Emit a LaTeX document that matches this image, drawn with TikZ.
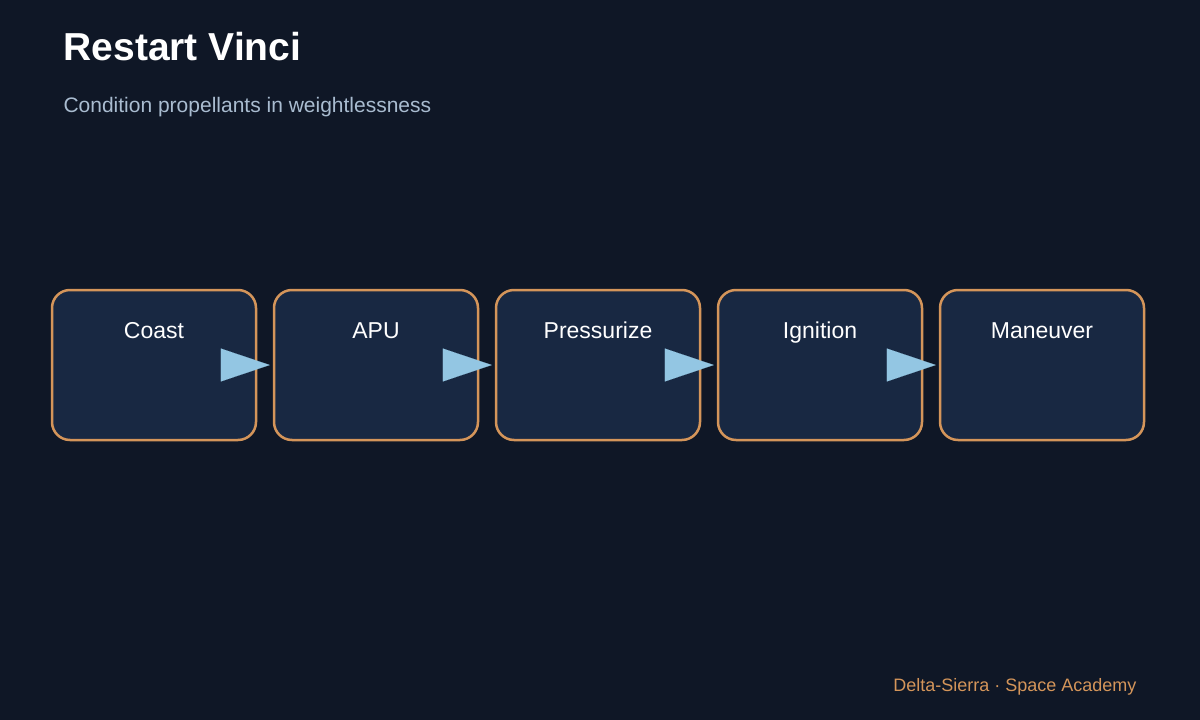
\documentclass[tikz,border=0pt]{standalone}
\usepackage{fontspec}
\setmainfont{Liberation Sans}
\usetikzlibrary{arrows.meta}
\definecolor{bg}{HTML}{0F1726}
\definecolor{boxf}{HTML}{182842}
\definecolor{boxd}{HTML}{D4955A}
\definecolor{arr}{HTML}{93C6E3}
\definecolor{sub}{HTML}{A9BCD0}
\begin{document}
\begin{tikzpicture}[x=1pt,y=-1pt,
  box/.style={draw=boxd,fill=boxf,line width=2.5pt,rounded corners=18pt,minimum width=204pt,minimum height=150pt,inner sep=0pt},
  lbl/.style={text=white,font=\fontsize{23}{27}\selectfont,anchor=base},
  con/.style={arr,line width=0.1pt,-{Triangle[length=49pt,width=33pt]},shorten >=3pt}]
\fill[bg] (0,0) rectangle (1200,720);
\useasboundingbox (0,0) rectangle (1200,720);
\node[anchor=base west,text=white,font=\bfseries\fontsize{39}{44}\selectfont] (title) at (60,60) {Restart Vinci};
\node[anchor=base west,text=sub,font=\fontsize{21}{25}\selectfont] (subtitle) at (60,112) {Condition propellants in weightlessness};
\foreach \n/\x/\t in {a/154/Coast,b/376/APU,c/598/Pressurize,d/820/Ignition,e/1042/Maneuver}{
  \node[box] (\n) at (\x,365) {};
  \node[lbl] (\n l) at (\x,338) {\t};
}
\foreach \p/\q in {a/b,b/c,c/d,d/e}{\draw[con] (\p.east) -- (\q.west);}
\node[anchor=base east,text=boxd,font=\fontsize{18}{22}\selectfont] (foot) at (1140,691) {Delta-Sierra · Space Academy};
\end{tikzpicture}
\end{document}
